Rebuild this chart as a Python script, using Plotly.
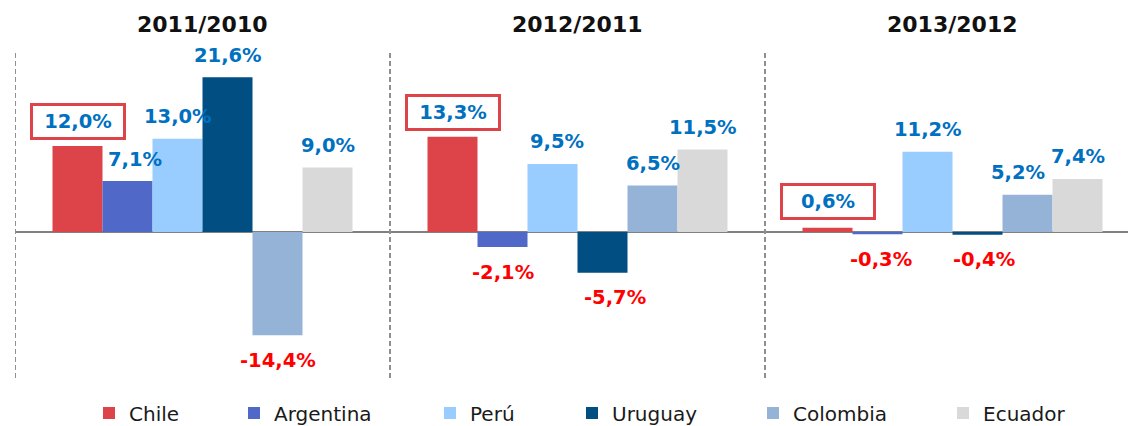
import plotly.graph_objects as go

# Data
groups = ["2011/2010", "2012/2011", "2013/2012"]
countries = ["Chile", "Argentina", "Perú", "Uruguay", "Colombia", "Ecuador"]
chile = [12.0, 13.3, 0.6]
argentina = [7.1, -2.1, -0.3]
peru = [13.0, 9.5, 11.2]
uruguay = [21.6, -5.7, -0.4]
colombia = [-14.4, 6.5, 5.2]
ecuador = [9.0, 11.5, 7.4]

series = [chile, argentina, peru, uruguay, colombia, ecuador]
colors = ["#DC4449", "#5068C8", "#99CCFF", "#004E82", "#95B3D7", "#D9D9D9"]

# small horizontal nudges of some value labels (px)
label_dx = {(1, 0): 7, (2, 1): 4, (3, 1): 12, (4, 2): -10, (3, 2): 6, (1, 2): 3}

# legend square left edges (px) in the reference
legend_px = [107, 252, 448, 590, 771, 961]

W, H = 1128, 426
ML, MR, MT, MB = 15, 0, 52, 48
plot_w = W - ML - MR

fig = go.Figure()
for i, (name, vals) in enumerate(zip(countries, series)):
    fig.add_trace(go.Bar(
        x=groups, y=vals, name=name,
        marker=dict(color=colors[i], line=dict(width=0)),
        legend="legend" if i == 0 else f"legend{i + 1}",
    ))

n = len(countries)
group_w = 0.8
bar_w = group_w / n

annotations = []
for i, vals in enumerate(series):
    for g, v in enumerate(vals):
        xpos = g - group_w / 2 + (i + 0.5) * bar_w
        txt = f"{v:.1f}%".replace(".", ",")
        pos = v >= 0
        ann = dict(
            x=xpos, y=v, xref="x", yref="y", text=f"<b>{txt}</b>",
            showarrow=False, xanchor="center", yanchor="middle",
            xshift=label_dx.get((i, g), 0),
            yshift=22 if pos else -25,
            font=dict(family="DejaVu Sans", size=19.5,
                      color="#0070C0" if pos else "#FF0000"),
        )
        if i == 0:
            ann.update(bordercolor="#DC4449", borderwidth=3, borderpad=3,
                       width=84, height=25, yshift=24 if v > 5 else 26)
        annotations.append(ann)

for g, title in enumerate(groups):
    annotations.append(dict(
        x=g, y=(H - 24 - MB) / (H - MT - MB), xref="x", yref="paper",
        text=f"<b>{title}</b>", showarrow=False, yanchor="middle",
        font=dict(family="DejaVu Sans", size=22, color="#111111"),
    ))

shapes = []
for g in range(len(groups)):
    shapes.append(dict(
        type="line", xref="x", yref="paper", x0=g - 0.5, x1=g - 0.5, y0=0, y1=1,
        line=dict(color="#8F8F8F", width=2, dash="5px,3px"),
    ))

layout_legends = {}
for i in range(n):
    key = "legend" if i == 0 else f"legend{i + 1}"
    layout_legends[key] = dict(
        x=(legend_px[i] - 18 - ML) / plot_w, xanchor="left",
        y=-(413 - (H - MB)) / (H - MT - MB), yanchor="middle",
        orientation="h", bgcolor="rgba(0,0,0,0)",
        font=dict(family="DejaVu Sans", size=20, color="#1A1A1A"),
    )

fig.update_layout(
    width=W, height=H,
    margin=dict(l=ML, r=MR, t=MT, b=MB, autoexpand=False),
    plot_bgcolor="white", paper_bgcolor="white",
    barmode="group", bargap=0.2, bargroupgap=0,
    xaxis=dict(range=[-0.5, -0.5 + plot_w / 375], showticklabels=False,
               showgrid=False, zeroline=False, showline=False, ticks=""),
    yaxis=dict(range=[-(H - MB - 232) / 7.17, (232 - MT) / 7.17],
               showticklabels=False, showgrid=False, ticks="",
               zeroline=True, zerolinecolor="#808080", zerolinewidth=2),
    annotations=annotations,
    shapes=shapes,
    showlegend=True,
    **layout_legends,
)

fig.write_html("out.html", config={"displayModeBar": False},
               post_script="document.body.style.margin='0';")
